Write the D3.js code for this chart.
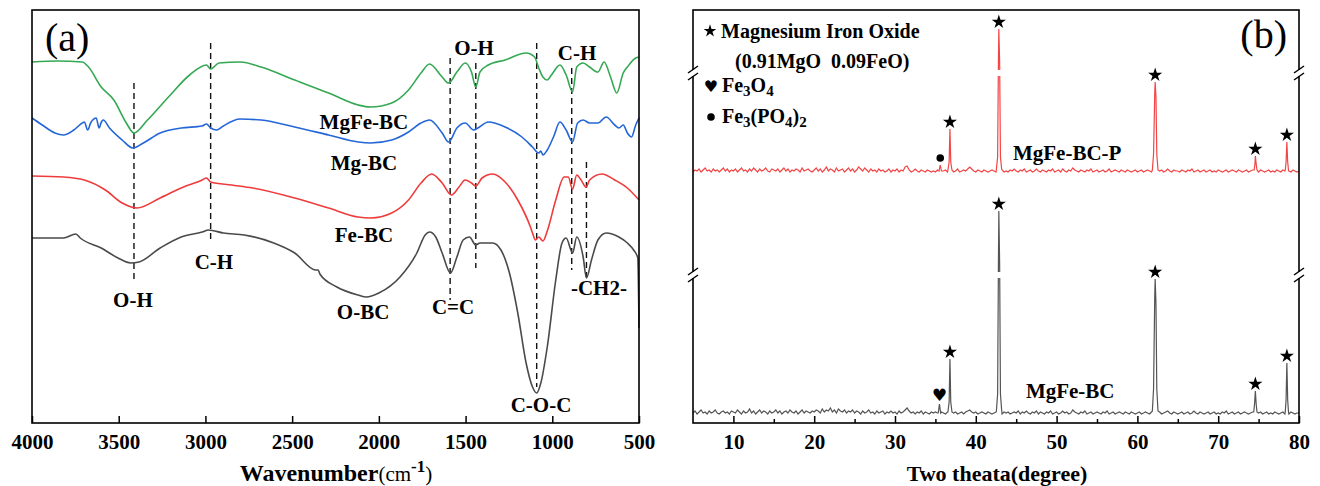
<!DOCTYPE html>
<html>
<head>
<meta charset="utf-8">
<script src="https://cdn.jsdelivr.net/npm/d3@7"></script>
<style>
  body { margin: 0; background: #fff; }
  text { font-family: "Liberation Serif", "Times New Roman", serif; }
</style>
</head>
<body>
<svg id="chart" width="1320" height="486"></svg>
<script>
// ---------- (a) FTIR: [wavenumber, transmittance a.u.] ----------
const ftirMgFeBC = [[4000,361],[3850,362],[3710,361],[3674,356],[3601,336],[3528,323],[3456,300],[3412,290],[3334,303],[3213,326],[3091,348],[2994,358],[2970,354],[2922,360],[2800,361],[2679,356],[2485,343],[2290,330],[2120,318],[2047,316],[1926,320],[1829,333],[1757,350],[1708,359],[1635,346],[1598,340],[1550,351],[1502,360],[1466,351],[1441,336],[1417,351],[1369,358],[1272,363],[1151,370],[1102,366],[1078,355],[1054,346],[1029,343],[1005,348],[956,358],[920,348],[883,331],[859,356],[822,360],[785,356],[737,351],[701,361],[664,346],[628,330],[591,350],[567,356],[519,365],[500,366]];
const ftirMgBC = [[4000,305],[3941,298],[3868,290],[3819,288],[3759,293],[3710,300],[3698,301],[3679,293],[3662,300],[3650,303],[3630,305],[3613,295],[3600,301],[3589,303],[3553,295],[3480,283],[3419,275],[3358,280],[3261,290],[3140,295],[3019,297],[2994,299],[2970,295],[2933,293],[2897,297],[2800,304],[2679,303],[2485,296],[2290,288],[2120,281],[2047,280],[1926,283],[1829,291],[1757,300],[1708,303],[1635,290],[1598,281],[1550,295],[1502,300],[1453,293],[1429,295],[1369,301],[1272,296],[1175,286],[1114,276],[1078,270],[1066,272],[1054,268],[1029,273],[993,286],[956,301],[920,293],[883,281],[854,300],[822,303],[785,300],[737,300],[689,306],[640,298],[616,295],[591,298],[567,290],[543,286],[519,298],[500,305]];
const ftirFeBC = [[4000,247],[3819,246],[3698,243],[3577,233],[3480,220],[3395,215],[3261,225],[3140,235],[3019,243],[2994,245],[2970,241],[2849,238],[2728,235],[2485,225],[2290,215],[2120,206],[2047,205],[1926,210],[1829,223],[1757,240],[1695,249],[1635,240],[1581,228],[1538,236],[1502,243],[1466,240],[1441,237],[1405,245],[1344,249],[1272,241],[1199,223],[1126,196],[1114,190],[1097,183],[1078,186],[1054,182],[1029,192],[980,223],[932,246],[908,246],[883,234],[859,248],[834,243],[805,236],[785,243],[713,249],[640,243],[567,235],[500,223]];
const ftirOBC = [[4000,185],[3819,185],[3747,189],[3722,185],[3601,175],[3504,165],[3431,160],[3383,161],[3261,175],[3140,186],[3019,191],[2982,193],[2897,190],[2776,188],[2606,180],[2485,170],[2364,153],[2350,153],[2340,149],[2242,136],[2120,128],[2072,126],[2000,130],[1878,146],[1781,170],[1733,188],[1708,191],[1672,186],[1635,170],[1587,150],[1550,166],[1514,183],[1478,186],[1441,178],[1417,180],[1344,180],[1296,173],[1247,150],[1199,110],[1151,60],[1114,36],[1090,30],[1066,40],[1029,76],[980,143],[944,180],[920,185],[883,170],[859,186],[822,166],[803,145],[774,163],[737,183],[689,190],[616,186],[567,180],[531,173],[507,165],[500,95]];

const ftirNames = ["MgFe-BC", "Mg-BC", "Fe-BC", "O-BC"];
const ftirColors = ["#35a853", "#2466d8", "#ee3b3b", "#4a4a4a"];
const ftirData = [ftirMgFeBC, ftirMgBC, ftirFeBC, ftirOBC];

const wnTicks = [4000, 3500, 3000, 2500, 2000, 1500, 1000, 500];

// dashed band markers: [wavenumber, top, bottom]
const bandLines = [[3412,340,140],[2970,380,181],[1589,365,123],[1441,360,155],[1090,380,36],[888,355,153],[803,261,146]];
// annotation labels: [text, wavenumber, level]
const bandLabels = [["O-H",3418,116],["C-H",2951,154],["O-BC",2091,104],["C=C",1572,109],["C-O-C",1065,11],["-CH2-",731,128],["O-H",1451,368],["C-H",857,363],["MgFe-BC",2086,294],["Mg-BC",2086,253],["Fe-BC",2086,181]];

// ---------- (b) XRD: baseline noise on 0.25 deg grid from 5 to 80 ----------
const xrdBaseMgFeBC = [
  1,3,0,2,4,1,2,0,3,1,2,4,1,0,2,3,1,2,0,3,
  2,1,4,2,0,3,1,2,5,1,3,0,2,4,1,3,2,0,3,1,
  2,4,1,3,0,2,3,1,4,2,1,3,0,2,4,1,3,2,1,3,
  2,4,3,1,5,2,4,3,6,2,4,1,5,3,2,4,1,3,2,4,
  1,3,2,0,3,1,2,4,1,2,0,3,1,2,3,0,2,1,3,1,
  2,0,3,1,2,4,6,3,1,2,0,2,1,3,0,2,1,0,2,1,
  2,1,0,2,1,0,2,1,0,1,2,0,1,2,0,2,3,4,2,1,
  2,0,1,2,1,0,2,1,0,1,2,3,1,0,2,1,2,0,1,2,
  1,3,0,2,1,3,1,0,2,1,3,0,2,1,0,2,1,3,0,1,
  2,0,1,3,1,2,0,1,4,2,1,0,2,1,3,0,1,2,0,1,
  2,1,0,2,1,3,0,1,2,0,1,2,1,0,2,1,0,2,1,0,
  1,2,0,1,2,1,0,2,1,0,1,2,0,1,2,3,1,0,2,1,
  0,1,2,0,1,2,0,1,3,1,0,2,1,0,1,2,0,1,2,0,
  1,0,2,1,3,0,1,2,0,1,2,0,1,2,1,0,1,2,1,0,
  1,2,0,1,2,0,1,0,2,1,0,1,2,0,1,0,2,1,0,1,
  1];
const xrdBaseMgFeBCP = [
  0,2,1,3,0,2,4,1,2,0,3,1,2,0,2,4,1,3,0,2,
  1,3,0,2,4,1,2,0,3,1,4,2,0,3,1,2,4,1,0,3,
  2,1,3,0,2,4,1,3,0,2,1,3,2,0,4,1,2,3,1,0,
  2,4,1,3,0,2,5,1,3,2,0,4,1,2,3,0,2,4,1,3,
  0,2,5,3,1,4,2,0,3,1,2,0,3,1,2,0,1,3,0,2,
  1,3,0,2,1,5,6,2,0,1,3,1,0,2,1,0,2,1,0,1,
  0,2,1,0,1,2,0,1,2,0,1,3,0,1,2,1,3,5,3,1,
  0,2,1,0,2,1,0,1,2,1,0,3,1,2,0,1,0,2,1,3,
  1,0,2,1,3,0,1,2,0,1,3,1,0,2,1,0,2,1,3,0,
  1,2,0,3,1,0,2,1,4,2,1,0,2,1,0,2,1,3,0,1,
  2,0,1,2,0,1,3,0,1,2,1,0,2,1,0,2,1,0,1,2,
  0,1,2,0,1,2,1,0,2,1,0,1,2,0,1,3,1,0,2,1,
  1,0,2,1,0,2,1,3,0,1,2,0,1,2,0,1,2,0,1,0,
  2,1,0,1,2,0,1,2,1,0,2,1,0,1,2,0,1,2,0,1,
  0,2,1,0,1,2,0,1,0,2,1,0,2,1,0,1,0,2,1,0,
  1];

// diffraction peaks: [2theta, intensity above baseline]
const xrdPeaksMgFeBC = [
  [[35.35,1],[35.5,10],[35.65,1]],
  [[36.55,2],[36.7,12],[36.8,55],[36.9,12],[37.05,2]],
  [[42.55,3],[42.7,20],[42.8,150],[42.85,203],[42.95,150],[43.05,20],[43.2,4]],
  [[61.85,3],[62.0,25],[62.15,120],[62.2,135],[62.3,110],[62.4,25],[62.55,3]],
  [[74.4,2],[74.5,10],[74.6,23],[74.7,10],[74.8,2]],
  [[78.3,2],[78.4,14],[78.5,51],[78.6,14],[78.7,2]]
];
const xrdPeaksMgFeBCP = [
  [[35.45,1],[35.6,7],[35.75,1]],
  [[36.55,2],[36.7,10],[36.8,43],[36.9,10],[37.05,2]],
  [[42.55,3],[42.7,15],[42.8,110],[42.85,143],[42.95,110],[43.05,15],[43.2,3]],
  [[61.85,2],[62.0,18],[62.15,80],[62.2,90],[62.3,75],[62.4,18],[62.55,2]],
  [[74.45,2],[74.55,8],[74.6,16],[74.7,8],[74.8,2]],
  [[78.3,2],[78.4,10],[78.5,30],[78.6,10],[78.7,2]]
];
const xrdNames = ["MgFe-BC", "MgFe-BC-P"];
const xrdColors = ["#555555", "#f24545"];
const xrdOffsets = [9, 251];
// sample labels: [text, 2theta, level]
const xrdLabels = [["MgFe-BC", 46.2, 25], ["MgFe-BC-P", 44.6, 263]];

// phase markers: [2theta, series index, symbol]
const xrdMarks = [[36.8,0,"star"],[42.85,0,"star"],[62.2,0,"star"],[74.6,0,"star"],[78.5,0,"star"],[35.5,0,"heart"],
                  [36.8,1,"star"],[42.85,1,"star"],[62.2,1,"star"],[74.6,1,"star"],[78.5,1,"star"],[35.6,1,"dot"]];
const thetaTicks = [10, 20, 30, 40, 50, 60, 70, 80];
const thetaMinor = [15, 25, 35, 45, 55, 65, 75];
const axisBreaks = [73, 275];

const svg = d3.select("#chart");
const FONT = '"Liberation Serif","Times New Roman",serif';

// ===================== panel (a) =====================
const xA = d3.scaleLinear().domain([4000, 500]).range([32, 639]);
const yA = d3.scaleLinear().domain([0, 413]).range([423, 10]);
const gA = svg.append("g");

const lineA = d3.line().x(d => xA(d[0])).y(d => yA(d[1])).curve(d3.curveMonotoneX);

gA.selectAll("line.band")
  .data(bandLines)
  .join("line")
  .attr("class", "band")
  .attr("x1", d => xA(d[0])).attr("x2", d => xA(d[0]))
  .attr("y1", d => yA(d[1])).attr("y2", d => yA(d[2]))
  .attr("stroke", "#111").attr("stroke-width", 1.4)
  .attr("stroke-dasharray", "6,4");

gA.selectAll("path.ftir")
  .data(ftirData)
  .join("path")
  .attr("class", "ftir")
  .attr("d", lineA)
  .attr("fill", "none")
  .attr("stroke", (d, i) => ftirColors[i])
  .attr("stroke-width", 1.6);

gA.selectAll("text.lab")
  .data(bandLabels)
  .join("text")
  .attr("class", "lab")
  .attr("x", d => xA(d[1]))
  .attr("y", d => yA(d[2]))
  .attr("text-anchor", "middle")
  .attr("font-size", 21)
  .attr("font-weight", "bold")
  .text(d => d[0]);

gA.append("g")
  .attr("transform", "translate(0,423)")
  .call(d3.axisBottom(xA).tickValues(wnTicks).tickFormat(d3.format("d"))
    .tickSizeInner(-7).tickSizeOuter(0).tickPadding(11))
  .call(g => g.select(".domain").remove())
  .call(g => g.attr("font-family", FONT).attr("font-size", 21).attr("font-weight", "bold"))
  .call(g => g.selectAll("line").attr("stroke", "#000").attr("stroke-width", 1.5))
  .call(g => g.selectAll("text").attr("fill", "#000"));

gA.append("rect")
  .attr("x", 32).attr("y", 10).attr("width", 607).attr("height", 413)
  .attr("fill", "none").attr("stroke", "#000").attr("stroke-width", 1.6);

gA.append("text").attr("x", 45).attr("y", 51).attr("font-size", 40).text("(a)");

const titleA = gA.append("text").attr("x", 336).attr("y", 481).attr("text-anchor", "middle");
titleA.append("tspan").attr("font-size", 24).attr("font-weight", "bold").text("Wavenumber");
titleA.append("tspan").attr("font-size", 21).text("(cm");
titleA.append("tspan").attr("font-size", 17).attr("font-weight", "bold").attr("dy", -9).text("-1");
titleA.append("tspan").attr("font-size", 21).attr("dy", 9).text(")");

// ===================== panel (b) =====================
const xB = d3.scaleLinear().domain([5, 80]).range([693, 1299]);
const yB = d3.scaleLinear().domain([0, 413]).range([423, 10]);
const gB = svg.append("g");

const grid = d3.range(xrdBaseMgFeBC.length).map(i => 5 + i * 0.25);
function buildPattern(base, peaks, offset) {
  const pts = grid.map((t, i) => [t, base[i]])
    .filter(([t]) => !peaks.some(p => t >= p[0][0] && t <= p[p.length - 1][0]));
  peaks.forEach(p => pts.push(...p));
  return pts.sort((a, b) => a[0] - b[0]).map(([t, v]) => [t, v + offset]);
}
const xrdData = [
  buildPattern(xrdBaseMgFeBC, xrdPeaksMgFeBC, xrdOffsets[0]),
  buildPattern(xrdBaseMgFeBCP, xrdPeaksMgFeBCP, xrdOffsets[1])
];
const xrdPeaks = [xrdPeaksMgFeBC, xrdPeaksMgFeBCP];

const lineB = d3.line().x(d => xB(d[0])).y(d => yB(d[1]));
gB.selectAll("path.xrd")
  .data(xrdData)
  .join("path")
  .attr("class", "xrd")
  .attr("d", lineB)
  .attr("fill", "none")
  .attr("stroke", (d, i) => xrdColors[i])
  .attr("stroke-width", 1.2);

// axes
gB.append("g").attr("transform", "translate(0,423)")
  .call(d3.axisBottom(xB).tickValues(thetaTicks).tickSizeInner(-7).tickSizeOuter(0).tickPadding(11))
  .call(g => g.select(".domain").remove())
  .call(g => g.attr("font-family", FONT).attr("font-size", 21).attr("font-weight", "bold"))
  .call(g => g.selectAll("line").attr("stroke", "#000").attr("stroke-width", 1.5))
  .call(g => g.selectAll("text").attr("fill", "#000"));
gB.append("g").attr("transform", "translate(0,423)")
  .call(d3.axisBottom(xB).tickValues(thetaMinor).tickSizeInner(-4).tickSizeOuter(0).tickFormat(""))
  .call(g => g.select(".domain").remove())
  .call(g => g.selectAll("line").attr("stroke", "#000").attr("stroke-width", 1.5));

gB.append("rect")
  .attr("x", 693).attr("y", 10).attr("width", 606).attr("height", 413)
  .attr("fill", "none").attr("stroke", "#000").attr("stroke-width", 1.6);

// axis breaks: white gap across panel, then slanted marks on both sides
axisBreaks.forEach(yb => {
  gB.append("rect").attr("x", 689).attr("y", yb - 3).attr("width", 614).attr("height", 6).attr("fill", "#fff");
  [693, 1299].forEach(x => {
    [-3.5, 3.5].forEach(o => {
      gB.append("line")
        .attr("x1", x - 5).attr("y1", yb + o + 3.5)
        .attr("x2", x + 5).attr("y2", yb + o - 3.5)
        .attr("stroke", "#000").attr("stroke-width", 1.5);
    });
  });
});

// peak-top level of a marker
function markTop(m) {
  const grp = xrdPeaks[m[1]].find(p => m[0] >= p[0][0] && m[0] <= p[p.length - 1][0]);
  return d3.max(grp, d => d[1]) + xrdOffsets[m[1]];
}
const star = d3.symbol().type(d3.symbolStar).size(62);
gB.selectAll("g.mark")
  .data(xrdMarks)
  .join("g")
  .attr("class", "mark")
  .attr("transform", d => `translate(${xB(d[0])},${yB(markTop(d)) - (d[2] === "heart" ? 9 : 7)})`)
  .each(function (d) {
    const g = d3.select(this);
    if (d[2] === "star") g.append("path").attr("d", star).attr("fill", "#000");
    else if (d[2] === "dot") g.append("circle").attr("r", 3.8).attr("fill", "#000");
    else g.append("text").attr("text-anchor", "middle").attr("dy", 6)
      .style("font-family", "DejaVu Sans").attr("font-size", 17).text("\u2665");
  });

gB.selectAll("text.xlab")
  .data(xrdLabels)
  .join("text")
  .attr("class", "xlab")
  .attr("x", d => xB(d[1])).attr("y", d => yB(d[2]))
  .attr("font-size", 21).attr("font-weight", "bold")
  .text(d => d[0]);

gB.append("text").attr("x", 1287).attr("y", 48).attr("text-anchor", "end").attr("font-size", 40).text("(b)");

// legend
const leg = gB.append("g").attr("font-size", 20).attr("font-weight", "bold");
leg.append("path").attr("transform", "translate(710,31)").attr("d", d3.symbol().type(d3.symbolStar).size(50)).attr("fill", "#000");
leg.append("text").attr("x", 721).attr("y", 38).text("Magnesium Iron Oxide");
leg.append("text").attr("x", 735).attr("y", 68).attr("xml:space", "preserve").text("(0.91MgO  0.09FeO)");
leg.append("text").attr("x", 711).attr("y", 92).attr("text-anchor", "middle")
  .style("font-family", "DejaVu Sans").attr("font-size", 16).text("\u2665");
const fe3o4 = leg.append("text").attr("x", 722).attr("y", 92);
fe3o4.append("tspan").text("Fe");
fe3o4.append("tspan").attr("font-size", 15).attr("dy", 4).text("3");
fe3o4.append("tspan").attr("dy", -4).text("O");
fe3o4.append("tspan").attr("font-size", 15).attr("dy", 4).text("4");
leg.append("circle").attr("cx", 711).attr("cy", 117).attr("r", 3.8).attr("fill", "#000");
const fepo = leg.append("text").attr("x", 722).attr("y", 123);
fepo.append("tspan").text("Fe");
fepo.append("tspan").attr("font-size", 15).attr("dy", 4).text("3");
fepo.append("tspan").attr("dy", -4).text("(PO");
fepo.append("tspan").attr("font-size", 15).attr("dy", 4).text("4");
fepo.append("tspan").attr("dy", -4).text(")");
fepo.append("tspan").attr("font-size", 15).attr("dy", 4).text("2");

gB.append("text").attr("x", 997).attr("y", 481).attr("text-anchor", "middle")
  .attr("font-size", 22).attr("font-weight", "bold").text("Two theata(degree)");
</script>
</body>
</html>
